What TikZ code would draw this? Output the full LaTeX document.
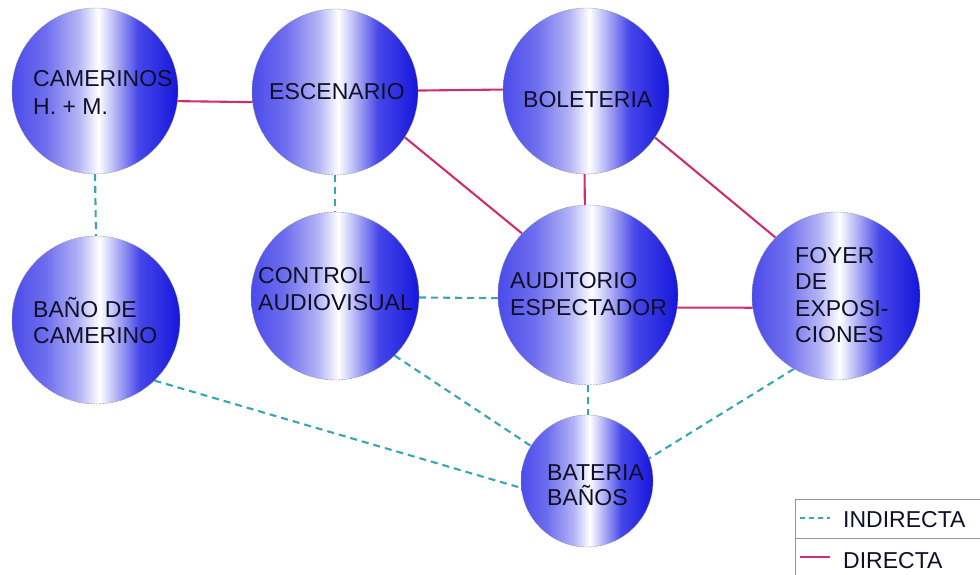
\documentclass[tikz,border=0pt]{standalone}
\usepackage{fontspec}
\setmainfont{Liberation Sans}
\usetikzlibrary{backgrounds}
\definecolor{bA}{RGB}{75,75,235}
\definecolor{bB}{RGB}{110,110,238}
\definecolor{bL}{RGB}{180,180,246}
\definecolor{bM}{RGB}{70,70,234}
\definecolor{bC}{RGB}{22,22,220}
\definecolor{txtcol}{RGB}{15,15,40}
\definecolor{dircol}{RGB}{205,45,115}
\definecolor{indcol}{RGB}{55,165,180}
\definecolor{legcol}{RGB}{150,150,150}
\pgfdeclarehorizontalshading{ballshade}{100bp}{color(0bp)=(bA); color(25bp)=(bA); color(35bp)=(bB); color(45bp)=(bL); color(51bp)=(white); color(56bp)=(bL); color(63bp)=(bM); color(75bp)=(bC); color(100bp)=(bC)}
\begin{document}
\begin{tikzpicture}[x=1pt,y=-1pt,
  ball/.style={circle, minimum size=#1, inner sep=0pt, shading=ballshade, draw=black!45, line width=0.4pt, dash pattern=on 2pt off 1pt},
  ball/.default=166,
  lbl/.style={font=\fontsize{23}{27}\selectfont, text=txtcol, align=left, inner sep=0pt, anchor=base west},
  direct/.style={draw=dircol, line width=2.1pt},
  indirect/.style={draw=indcol, line width=2.1pt, dash pattern=on 7pt off 5pt},
  legline/.style={draw=legcol, line width=0.8pt}]
\useasboundingbox (0,0) rectangle (980,575);

% rooms
\node[ball] (cam) at (95,91) {};
\node[ball] (esc) at (335,92) {};
\node[ball] (bol) at (586,91) {};
\node[ball=168] (ban) at (96,320) {};
\node[ball=168] (ctl) at (335,296) {};
\node[ball=180] (aud) at (588,295) {};
\node[ball=168] (foy) at (836,296) {};
\node[ball=132] (bat) at (587,481) {};

% labels (anchor = baseline of the last line)
\node[lbl, font=\fontsize{23}{28}\selectfont] (camt) at (33,115) {CAMERINOS\\H. + M.};
\node[lbl] (esct) at (269,100) {ESCENARIO};
\node[lbl] (bolt) at (523,108) {BOLETERIA};
\node[lbl, font=\fontsize{23}{26}\selectfont] (bant) at (33,343) {BAÑO DE\\CAMERINO};
\node[lbl] (ctlt) at (258,310) {CONTROL\\AUDIOVISUAL};
\node[lbl] (audt) at (510,315) {AUDITORIO\\ESPECTADOR};
\node[lbl, font=\fontsize{23}{26.5}\selectfont] (foyt) at (795,342.5) {FOYER\\DE\\EXPOSI-\\CIONES};
\node[lbl, font=\fontsize{23}{25}\selectfont] (batt) at (547,505) {BATERIA\\BAÑOS};

% connectors
\begin{scope}[on background layer]
\draw[direct] (cam.-7.3) -- (esc.-173.4);
\draw[direct] (esc.1.4) -- (bol.179.3);
\draw[direct] (esc.-33.7) -- (aud.137.6);
\draw[direct] (bol.-91.4) -- (aud.92.5);
\draw[direct] (bol.-34.6) -- (foy.136.9);
\draw[direct] (aud.-8) -- (foy.-172.1);
\draw[indirect] (cam.south) -- (ban.north);
\draw[indirect] (esc.south) -- (ctl.north);
\draw[indirect] (ctl.-1.4) -- (aud.-178.1);
\draw[indirect] (ban.-46.1) -- (bat.-174.7);
\draw[indirect] (ctl.-45.4) -- (bat.148.3);
\draw[indirect] (aud.-90) -- (bat.89);
\draw[indirect] (foy.-120.8) -- (bat.20.7);
\end{scope}

% legend
\draw[legline] (980,499) -- (795,499) -- (795,575);
\draw[legline] (795,538) -- (980,538);
\coordinate (i1) at (800,518);
\coordinate (i2) at (830,518);
\coordinate (d1) at (800,557);
\coordinate (d2) at (830,557);
\draw[indcol, line width=1.4pt, dash pattern=on 5pt off 4pt] (i1) -- (i2);
\draw[direct] (d1) -- (d2);
\node[lbl] (indt) at (843,527) {INDIRECTA};
\node[lbl] (dirt) at (843,568) {DIRECTA};
\end{tikzpicture}
\end{document}
